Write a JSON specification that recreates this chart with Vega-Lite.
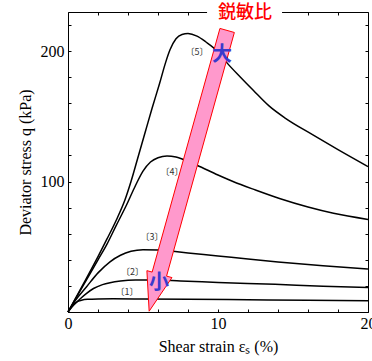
{
  "$schema": "https://vega.github.io/schema/vega-lite/v6.json",
  "width": 300,
  "height": 300,
  "autosize": {"type": "none"},
  "padding": {"left": 68, "top": 12, "right": 4, "bottom": 49},
  "config": {
    "view": {"stroke": null},
    "axis": {
      "labelFont": "Liberation Serif", "labelFontSize": 16, "labelColor": "black",
      "titleFont": "Liberation Serif", "titleFontSize": 16, "titleFontWeight": "normal", "titleColor": "black",
      "domainColor": "black", "tickColor": "black", "domainWidth": 1, "tickWidth": 1, "grid": false,
      "labelOverlap": false
    }
  },
  "resolve": {"axis": {"x": "independent", "y": "independent"}},
  "layer": [
    {
      "data": {"values": [
        {"c": 1, "x": 0, "q": 0}, {"c": 1, "x": 0.2, "q": 3.5}, {"c": 1, "x": 0.4, "q": 6}, {"c": 1, "x": 0.6, "q": 7.8}, {"c": 1, "x": 0.9, "q": 9}, {"c": 1, "x": 1.3, "q": 9.7}, {"c": 1, "x": 2, "q": 10}, {"c": 1, "x": 3, "q": 10.1}, {"c": 1, "x": 5, "q": 10}, {"c": 1, "x": 8, "q": 9.8}, {"c": 1, "x": 12, "q": 9.4}, {"c": 1, "x": 16, "q": 9}, {"c": 1, "x": 20, "q": 8.7},
        {"c": 2, "x": 0, "q": 0}, {"c": 2, "x": 0.4, "q": 5.5}, {"c": 2, "x": 0.8, "q": 10}, {"c": 2, "x": 1.24, "q": 14.3}, {"c": 2, "x": 1.7, "q": 18}, {"c": 2, "x": 2.3, "q": 21}, {"c": 2, "x": 2.8, "q": 22.5}, {"c": 2, "x": 3.5, "q": 23.8}, {"c": 2, "x": 4.5, "q": 24.5}, {"c": 2, "x": 5.5, "q": 24.5}, {"c": 2, "x": 7.5, "q": 23.8}, {"c": 2, "x": 10, "q": 22.7}, {"c": 2, "x": 13.8, "q": 21.2}, {"c": 2, "x": 17, "q": 19.8}, {"c": 2, "x": 20, "q": 18.7},
        {"c": 3, "x": 0, "q": 0}, {"c": 3, "x": 0.5, "q": 9}, {"c": 3, "x": 1.24, "q": 19.4}, {"c": 3, "x": 2, "q": 30}, {"c": 3, "x": 2.8, "q": 38.5}, {"c": 3, "x": 3.5, "q": 43.5}, {"c": 3, "x": 4.2, "q": 46.5}, {"c": 3, "x": 5, "q": 47.7}, {"c": 3, "x": 6, "q": 47.6}, {"c": 3, "x": 7, "q": 46.5}, {"c": 3, "x": 8, "q": 45.3}, {"c": 3, "x": 10, "q": 43}, {"c": 3, "x": 12, "q": 40.6}, {"c": 3, "x": 14, "q": 38.4}, {"c": 3, "x": 17, "q": 35.5}, {"c": 3, "x": 20, "q": 33},
        {"c": 4, "x": 0, "q": 0}, {"c": 4, "x": 1, "q": 20}, {"c": 4, "x": 2, "q": 40}, {"c": 4, "x": 2.6, "q": 52}, {"c": 4, "x": 3.2, "q": 66}, {"c": 4, "x": 3.9, "q": 82}, {"c": 4, "x": 4.5, "q": 97}, {"c": 4, "x": 5.0, "q": 108}, {"c": 4, "x": 5.5, "q": 115}, {"c": 4, "x": 6, "q": 118.3}, {"c": 4, "x": 6.6, "q": 119.6}, {"c": 4, "x": 7.2, "q": 118.8}, {"c": 4, "x": 8, "q": 115.5}, {"c": 4, "x": 8.6, "q": 112.5}, {"c": 4, "x": 10, "q": 105}, {"c": 4, "x": 11, "q": 100}, {"c": 4, "x": 12.5, "q": 93.5}, {"c": 4, "x": 14.1, "q": 87}, {"c": 4, "x": 16, "q": 80.5}, {"c": 4, "x": 17.7, "q": 75.7}, {"c": 4, "x": 20, "q": 71},
        {"c": 5, "x": 0, "q": 0}, {"c": 5, "x": 1, "q": 21}, {"c": 5, "x": 2, "q": 42.5}, {"c": 5, "x": 2.6, "q": 56}, {"c": 5, "x": 3.2, "q": 70}, {"c": 5, "x": 3.8, "q": 86}, {"c": 5, "x": 4.2, "q": 100}, {"c": 5, "x": 4.7, "q": 120}, {"c": 5, "x": 5.2, "q": 140}, {"c": 5, "x": 5.6, "q": 156}, {"c": 5, "x": 6.1, "q": 175}, {"c": 5, "x": 6.5, "q": 191}, {"c": 5, "x": 6.8, "q": 201}, {"c": 5, "x": 7.2, "q": 209.5}, {"c": 5, "x": 7.6, "q": 212.8}, {"c": 5, "x": 8, "q": 213.5}, {"c": 5, "x": 8.6, "q": 211.5}, {"c": 5, "x": 9.2, "q": 207}, {"c": 5, "x": 10, "q": 199.5}, {"c": 5, "x": 10.6, "q": 191}, {"c": 5, "x": 11.5, "q": 180}, {"c": 5, "x": 12.35, "q": 170}, {"c": 5, "x": 13.4, "q": 158}, {"c": 5, "x": 14.5, "q": 148.5}, {"c": 5, "x": 16.3, "q": 136}, {"c": 5, "x": 18, "q": 124.5}, {"c": 5, "x": 20, "q": 111.5}
      ]},
      "mark": {"type": "line", "interpolate": "monotone", "color": "black", "strokeWidth": 1.5},
      "encoding": {
        "x": {"field": "x", "type": "quantitative", "scale": {"domain": [0, 20], "nice": false},
          "axis": {"orient": "bottom", "values": [0, 2, 4, 6, 8, 10, 12, 14, 16, 18, 20], "labelExpr": "datum.value % 10 === 0 ? datum.label : ''",
            "title": "Shear strain  εₛ (%)", "tickSize": -3, "labelPadding": 6, "titlePadding": 7, "labelFlush": false}},
        "y": {"field": "q", "type": "quantitative", "scale": {"domain": [0, 230], "nice": false},
          "axis": {"orient": "left", "values": [0, 20, 40, 60, 80, 100, 120, 140, 160, 180, 200, 220], "labelExpr": "datum.value === 100 || datum.value === 200 ? datum.label : ''",
            "title": "Deviator stress  q (kPa)", "tickSize": -3, "labelPadding": 7, "titlePadding": 7, "labelFlush": false}},
        "detail": {"field": "c", "type": "nominal"}
      }
    },
    {
      "data": {"values": [
        {"t": "〔1〕", "x": 3.93, "y": 15.3},
        {"t": "〔2〕", "x": 4.3, "y": 30.7},
        {"t": "〔3〕", "x": 5.6, "y": 57.5},
        {"t": "〔4〕", "x": 6.93, "y": 107.3},
        {"t": "〔5〕", "x": 8.6, "y": 199.7}
      ]},
      "mark": {"type": "text", "font": "Noto Sans CJK JP", "fontSize": 9, "color": "#333333", "baseline": "middle", "align": "center"},
      "encoding": {
        "x": {"field": "x", "type": "quantitative", "scale": {"domain": [0, 20], "nice": false},
          "axis": {"orient": "top", "values": [0, 2, 4, 6, 8, 10, 12, 14, 16, 18, 20], "labels": false, "title": null, "tickSize": -3}},
        "y": {"field": "y", "type": "quantitative", "scale": {"domain": [0, 230], "nice": false},
          "axis": {"orient": "right", "values": [0, 20, 40, 60, 80, 100, 120, 140, 160, 180, 200, 220], "labels": false, "title": null, "tickSize": -3}},
        "text": {"field": "t"}
      }
    },
    {
      "data": {"values": [
        {"i": 1, "x": 10.13, "y": 217.4},
        {"i": 2, "x": 11.09, "y": 214.3},
        {"i": 3, "x": 6.57, "y": 27.5},
        {"i": 4, "x": 6.93, "y": 26.4},
        {"i": 5, "x": 5.41, "y": 0.6},
        {"i": 6, "x": 5.26, "y": 31.7},
        {"i": 7, "x": 5.61, "y": 30.6}
      ]},
      "mark": {"type": "line", "interpolate": "linear-closed", "fill": "#ff99cc", "stroke": "#ff0000", "strokeWidth": 1},
      "encoding": {
        "x": {"field": "x", "type": "quantitative", "scale": {"domain": [0, 20], "nice": false}, "axis": null},
        "y": {"field": "y", "type": "quantitative", "scale": {"domain": [0, 230], "nice": false}, "axis": null},
        "order": {"field": "i", "type": "quantitative"}
      }
    },
    {
      "data": {"values": [
        {"t": "大", "x": 10.27, "y": 197},
        {"t": "小", "x": 6.07, "y": 22.2}
      ]},
      "mark": {"type": "text", "font": "Noto Sans CJK JP", "fontSize": 20, "fontWeight": "bold", "color": "#3a3acc", "baseline": "middle", "align": "center"},
      "encoding": {
        "x": {"field": "x", "type": "quantitative", "scale": {"domain": [0, 20], "nice": false}, "axis": null},
        "y": {"field": "y", "type": "quantitative", "scale": {"domain": [0, 230], "nice": false}, "axis": null},
        "text": {"field": "t"}
      }
    },
    {
      "data": {"values": [{"x": 9.27, "x2": 14.27, "y": 220, "y2": 239.2}]},
      "mark": {"type": "rect", "fill": "white", "clip": false},
      "encoding": {
        "x": {"field": "x", "type": "quantitative", "scale": {"domain": [0, 20], "nice": false}, "axis": null},
        "x2": {"field": "x2"},
        "y": {"field": "y", "type": "quantitative", "scale": {"domain": [0, 230], "nice": false}, "axis": null},
        "y2": {"field": "y2"}
      }
    },
    {
      "data": {"values": [{"t": "鋭敏比", "x": 11.8, "y": 229.3}]},
      "mark": {"type": "text", "font": "Noto Sans CJK JP", "fontSize": 18, "fontWeight": 500, "color": "#ff0000", "baseline": "middle", "align": "center"},
      "encoding": {
        "x": {"field": "x", "type": "quantitative", "scale": {"domain": [0, 20], "nice": false}, "axis": null},
        "y": {"field": "y", "type": "quantitative", "scale": {"domain": [0, 230], "nice": false}, "axis": null},
        "text": {"field": "t"}
      }
    }
  ]
}
